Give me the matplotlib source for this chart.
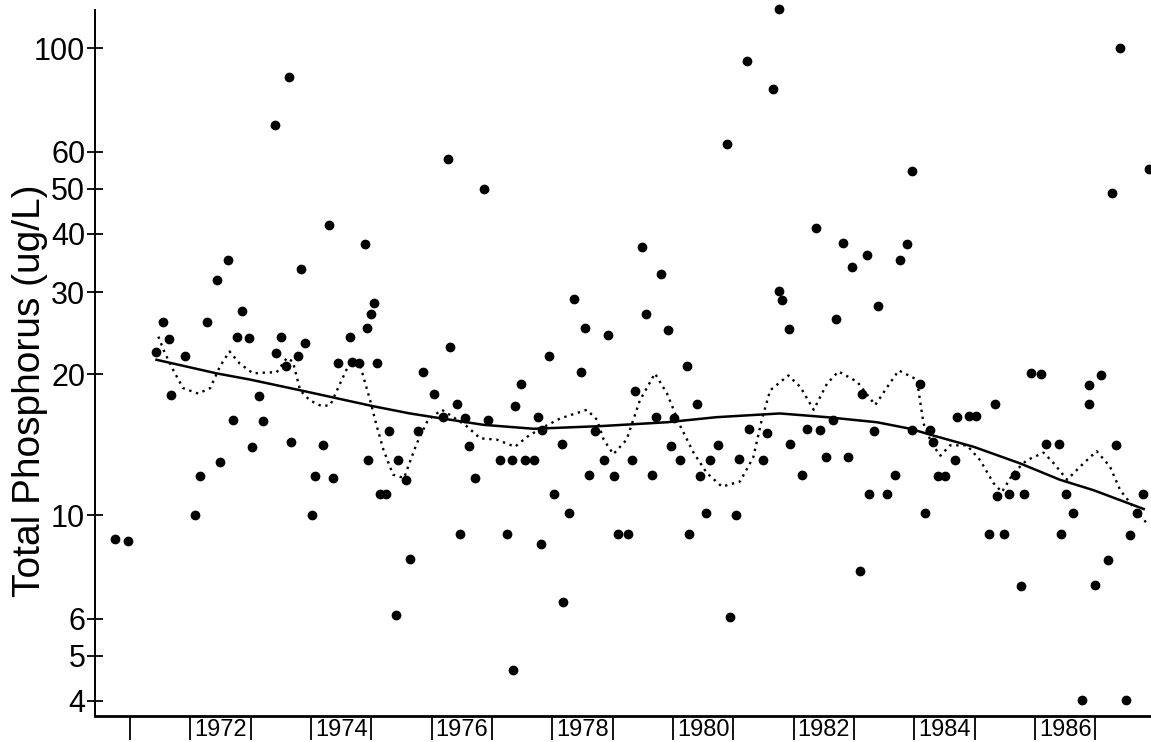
import numpy as np
import matplotlib
matplotlib.use("Agg")
import matplotlib.pyplot as plt
from matplotlib.ticker import FixedLocator, NullFormatter, FixedFormatter

plt.rcParams['font.family'] = ['Liberation Sans', 'DejaVu Sans']

# Muestras de fósforo total (año decimal, ug/L)
sample_year = [
    1970.76, 1970.96, 1971.43, 1971.54, 1971.64, 1971.68, 1971.92, 1972.07, 1972.16, 1972.27,
    1972.45, 1972.50, 1972.63, 1972.70, 1972.77, 1972.86, 1972.97, 1973.02, 1973.14, 1973.21,
    1973.40, 1973.42, 1973.50, 1973.59, 1973.64, 1973.67, 1973.78, 1973.84, 1973.90, 1974.02,
    1974.07, 1974.20, 1974.30, 1974.36, 1974.45, 1974.65, 1974.68, 1974.80, 1974.90, 1974.93,
    1974.95, 1974.99, 1975.05, 1975.09, 1975.14, 1975.25, 1975.30, 1975.41, 1975.45, 1975.57,
    1975.64, 1975.78, 1975.85, 1976.04, 1976.19, 1976.27, 1976.30, 1976.42, 1976.47, 1976.55,
    1976.62, 1976.72, 1976.87, 1976.94, 1977.14, 1977.25, 1977.33, 1977.34, 1977.38, 1977.48,
    1977.54, 1977.69, 1977.76, 1977.81, 1977.82, 1977.95, 1978.02, 1978.16, 1978.17, 1978.28,
    1978.36, 1978.48, 1978.54, 1978.61, 1978.70, 1978.86, 1978.92, 1979.02, 1979.08, 1979.25,
    1979.32, 1979.37, 1979.48, 1979.55, 1979.65, 1979.72, 1979.80, 1979.91, 1979.96, 1980.01,
    1980.12, 1980.23, 1980.26, 1980.40, 1980.45, 1980.55, 1980.61, 1980.74, 1980.90, 1980.95,
    1981.05, 1981.09, 1981.23, 1981.26, 1981.49, 1981.55, 1981.66, 1981.76, 1981.76, 1981.81,
    1981.92, 1981.94, 1982.13, 1982.22, 1982.37, 1982.44, 1982.54, 1982.65, 1982.70, 1982.82,
    1982.90, 1982.96, 1983.10, 1983.13, 1983.21, 1983.25, 1983.33, 1983.40, 1983.54, 1983.68,
    1983.76, 1983.88, 1983.96, 1983.96, 1984.09, 1984.18, 1984.25, 1984.30, 1984.39, 1984.51,
    1984.68, 1984.70, 1984.90, 1985.02, 1985.23, 1985.34, 1985.37, 1985.48, 1985.57, 1985.67,
    1985.76, 1985.82, 1985.93, 1986.09, 1986.18, 1986.39, 1986.43, 1986.51, 1986.62, 1986.78,
    1986.89, 1986.90, 1986.99, 1987.09, 1987.20, 1987.27, 1987.34, 1987.41, 1987.51, 1987.58,
    1987.69, 1987.78, 1987.88,
]
sample_tp = [
    8.9, 8.8, 22.3, 25.9, 23.8, 18.1, 21.9, 10.0, 12.1, 25.9,
    31.9, 13.0, 35.1, 16.0, 24.1, 27.3, 23.9, 14.0, 18.0, 15.9,
    68.3, 22.2, 24.1, 20.9, 86.8, 14.3, 21.9, 33.6, 23.3, 10.0,
    12.1, 14.1, 41.8, 12.0, 21.2, 24.1, 21.3, 21.2, 38.0, 25.1,
    13.1, 27.0, 28.5, 21.2, 11.1, 11.1, 15.1, 6.1, 13.1, 11.9,
    8.05, 15.1, 20.2, 18.2, 16.2, 57.8, 22.9, 17.3, 9.1, 16.1,
    14.05, 12.0, 50.0, 16.0, 13.1, 9.1, 13.1, 4.66, 17.1, 19.05,
    13.1, 13.1, 16.2, 8.66, 15.2, 21.9, 11.1, 14.2, 6.5, 10.1,
    29.0, 20.2, 25.1, 12.2, 15.1, 13.1, 24.3, 12.1, 9.1, 9.1,
    13.1, 18.4, 37.4, 27.0, 12.2, 16.2, 32.8, 24.9, 14.05, 16.1,
    13.1, 20.9, 9.1, 17.3, 12.1, 10.1, 13.1, 14.1, 62.3, 6.06,
    10.0, 13.2, 93.7, 15.3, 13.1, 15.0, 81.7, 30.2, 121.0, 28.8,
    25.0, 14.2, 12.2, 15.3, 41.2, 15.2, 13.3, 16.0, 26.3, 38.2,
    13.3, 34.0, 7.6, 18.2, 36.1, 11.1, 15.1, 28.0, 11.1, 12.2,
    35.2, 38.1, 54.4, 15.2, 19.1, 10.1, 15.2, 14.3, 12.1, 12.1,
    13.1, 16.2, 16.3, 16.3, 9.1, 17.3, 11.0, 9.1, 11.1, 12.2,
    7.05, 11.1, 20.1, 20.0, 14.2, 14.2, 9.1, 11.1, 10.1, 4.02,
    19.0, 17.3, 7.09, 19.9, 8.0, 49.0, 14.1, 99.9, 4.02, 9.06,
    10.1, 11.1, 55.0,
]

# Tendencia suavizada (línea continua)
trend_year = [1971.44, 1972.44, 1972.99, 1973.82, 1975.03, 1975.64, 1976.03, 1976.86,
              1977.69, 1978.79, 1979.90, 1980.72, 1981.77, 1982.55, 1983.38, 1983.93,
              1984.31, 1984.98, 1985.75, 1986.41, 1986.97, 1987.80]
trend_tp = [21.5, 20.1, 19.5, 18.5, 17.1, 16.5, 16.2, 15.6,
            15.3, 15.5, 15.8, 16.2, 16.5, 16.2, 15.8, 15.3,
            14.8, 14.0, 12.9, 11.9, 11.3, 10.3]

# Ajuste estacional (línea punteada)
season_year = [
    1971.47, 1971.58, 1971.72, 1971.88, 1972.13, 1972.33, 1972.49, 1972.65, 1972.82, 1973.04,
    1973.27, 1973.43, 1973.60, 1973.70, 1973.82, 1973.98, 1974.18, 1974.32, 1974.48, 1974.65,
    1974.82, 1974.98, 1975.09, 1975.20, 1975.36, 1975.54, 1975.75, 1975.94, 1976.17, 1976.36,
    1976.58, 1976.80, 1977.08, 1977.38, 1977.58, 1977.80, 1978.13, 1978.57, 1978.74, 1978.85,
    1979.01, 1979.23, 1979.45, 1979.70, 1979.90, 1980.12, 1980.34, 1980.56, 1980.81, 1981.11,
    1981.33, 1981.47, 1981.61, 1981.91, 1982.11, 1982.33, 1982.55, 1982.74, 1983.05, 1983.35,
    1983.55, 1983.74, 1984.04, 1984.15, 1984.29, 1984.43, 1984.59, 1984.87, 1985.09, 1985.31,
    1985.45, 1985.64, 1985.86, 1986.14, 1986.31, 1986.53, 1986.80, 1987.02, 1987.24, 1987.41,
    1987.63, 1987.85,
]
season_tp = [
    24.1, 22.2, 20.4, 18.7, 18.2, 18.7, 20.8, 22.4, 21.1, 20.1,
    20.2, 20.2, 21.7, 21.3, 18.5, 17.6, 17.1, 17.2, 19.1, 21.3,
    20.8, 17.6, 15.5, 13.8, 12.2, 12.0, 14.2, 16.0, 16.8, 16.2,
    15.5, 14.6, 14.5, 14.0, 14.7, 15.3, 16.1, 16.8, 16.0, 14.5,
    13.5, 14.5, 17.6, 20.1, 18.2, 15.5, 13.6, 12.3, 11.5, 11.8,
    13.3, 16.0, 18.5, 19.9, 18.8, 16.8, 19.1, 20.3, 19.3, 17.2,
    18.8, 20.4, 19.5, 15.7, 14.2, 13.4, 14.1, 14.1, 13.1, 11.7,
    11.2, 12.3, 13.1, 13.6, 12.9, 11.9, 12.9, 13.7, 12.7, 11.3,
    10.4, 9.6,
]

year_ticks = list(range(1971, 1988))
year_labels = [str(y) for y in range(1972, 1987, 2)]
tp_ticks = [4, 5, 6, 10, 20, 30, 40, 50, 60, 100]

fig = plt.figure(figsize=(11.51, 7.42), dpi=100)
ax = fig.add_axes([0.0825, 0.035, 0.9175, 0.9515])

ax.plot(season_year, season_tp, color="black", lw=1.7, linestyle=(0, (1, 2)))
ax.plot(trend_year, trend_tp, color="black", lw=1.8)
ax.plot(sample_year, sample_tp, "o", color="black", ms=6, clip_on=False)

ax.set_yscale("log")
ax.set_ylim(3.712, 120.6)
ax.set_xlim(1970.42, 1987.92)

# eje y
ax.yaxis.set_major_locator(FixedLocator(tp_ticks))
ax.yaxis.set_major_formatter(FixedFormatter([str(t) for t in tp_ticks]))
ax.yaxis.set_minor_locator(FixedLocator([]))
ax.yaxis.set_minor_formatter(NullFormatter())
ax.tick_params(axis="y", which="major", direction="inout", length=12, width=1.3,
               labelsize=22, pad=1)

# eje x: marcas en cada año, etiquetas a mitad de los años pares
ax.xaxis.set_major_locator(FixedLocator(year_ticks))
ax.xaxis.set_major_formatter(NullFormatter())
ax.xaxis.set_minor_locator(FixedLocator([int(y) + 0.5 for y in year_labels]))
ax.xaxis.set_minor_formatter(FixedFormatter(year_labels))
ax.tick_params(axis="x", which="major", direction="out", length=17, width=1.3)
ax.tick_params(axis="x", which="minor", length=0, labelsize=17, pad=2)

for side in ["top", "right"]:
    ax.spines[side].set_visible(False)
ax.spines["left"].set_linewidth(1.4)
ax.spines["bottom"].set_linewidth(2)

fig.text(30 / 1151, 0.474, "Total Phosphorus (ug/L)", rotation=90,
         ha="center", va="center", fontsize=28)

fig.savefig("out.png", dpi=100, facecolor="white")
